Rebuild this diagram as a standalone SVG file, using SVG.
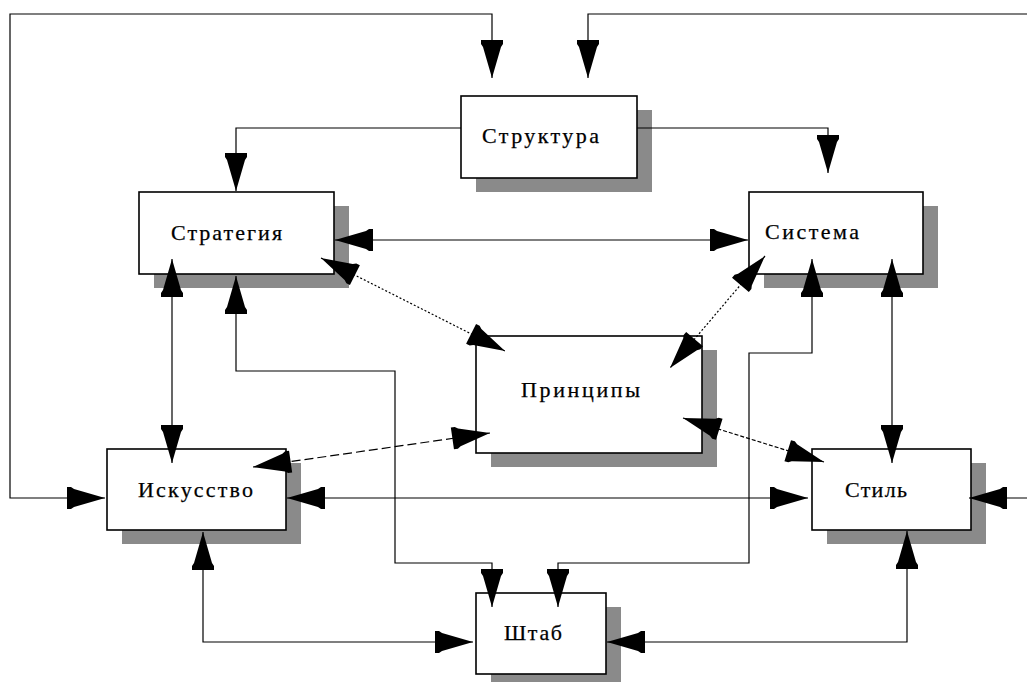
<svg xmlns="http://www.w3.org/2000/svg" width="1027" height="682" viewBox="0 0 1027 682">
<style>
.sh{fill:#8a8a8a}
.bx{fill:#ffffff;stroke:#000000;stroke-width:1.6}
.lb{font-family:"Liberation Serif","DejaVu Serif",serif;font-size:22px;fill:#000000;stroke:#000000;stroke-width:0.25}
.cn{fill:none;stroke:#000000;stroke-width:1.2}
.d1{stroke-dasharray:2 2}
.d2{stroke-dasharray:4 2}
.d3{stroke-dasharray:9 4}
.ar{marker-end:url(#ah)}
.ab{marker-start:url(#ah);marker-end:url(#ah)}
</style>
<defs>
<marker id="ah" markerUnits="userSpaceOnUse" viewBox="-40 -12 41 24" markerWidth="41" markerHeight="24" refX="0" refY="0" orient="auto-start-reverse">
<path d="M0,0 L-31,-9 L-34,-11 L-38,-11 L-38,11 L-34,11 L-31,9 Z" fill="#000000"/>
</marker>
</defs>
<rect width="1027" height="682" fill="#ffffff"/>
<g id="node-struktura">
<rect class="sh" x="476" y="110" width="176" height="82"/>
<rect class="bx" x="461" y="96" width="176" height="82"/>
<text class="lb" x="482" y="143" textLength="117" lengthAdjust="spacing">Структура</text>
</g>
<g id="node-strategiya">
<rect class="sh" x="154" y="206" width="195" height="82"/>
<rect class="bx" x="139" y="192" width="195" height="82"/>
<text class="lb" x="171" y="240" textLength="111" lengthAdjust="spacing">Стратегия</text>
</g>
<g id="node-sistema">
<rect class="sh" x="764" y="206" width="174" height="82"/>
<rect class="bx" x="749" y="192" width="174" height="82"/>
<text class="lb" x="765" y="239" textLength="94" lengthAdjust="spacing">Система</text>
</g>
<g id="node-printsipy">
<rect class="sh" x="491" y="350" width="226" height="117"/>
<rect class="bx" x="476" y="336" width="226" height="117"/>
<text class="lb" x="521" y="397" textLength="119" lengthAdjust="spacing">Принципы</text>
</g>
<g id="node-iskusstvo">
<rect class="sh" x="122" y="463" width="179" height="81"/>
<rect class="bx" x="107" y="449" width="179" height="81"/>
<text class="lb" x="138" y="497" textLength="115" lengthAdjust="spacing">Искусство</text>
</g>
<g id="node-stil">
<rect class="sh" x="827" y="463" width="159" height="81"/>
<rect class="bx" x="812" y="449" width="159" height="81"/>
<text class="lb" x="845" y="497" textLength="62" lengthAdjust="spacing">Стиль</text>
</g>
<g id="node-shtab">
<rect class="sh" x="491" y="607" width="130" height="81"/>
<rect class="bx" x="476" y="593" width="130" height="81"/>
<text class="lb" x="504" y="640" textLength="58" lengthAdjust="spacing">Штаб</text>
</g>
<g id="connectors">
<path class="cn ab" d="M105,498 L10,498 L10,14 L492,14 L492,78"/>
<path class="cn ar" d="M1027,14 L588,14 L588,78"/>
<path class="cn ar" d="M461,128 L236,128 L236,191"/>
<path class="cn ar" d="M637,128 L828,128 L828,173"/>
<path class="cn ab" d="M335,240 L748,240"/>
<path class="cn ab d1" d="M321,258 L505,351"/>
<path class="cn ab d1" d="M765,256 L670,368"/>
<path class="cn ab d2" d="M683,418 L824,462"/>
<path class="cn ab d3" d="M253,467 L490,433"/>
<path class="cn ab" d="M287,498 L808,498"/>
<path class="cn ar" d="M1027,498 L969,498"/>
<path class="cn ab" d="M172,259 L172,463"/>
<path class="cn ab" d="M236,276 L236,371 L395,371 L395,563 L492,563 L492,607"/>
<path class="cn ab" d="M812,259 L812,353 L749,353 L749,563 L558,563 L558,607"/>
<path class="cn ab" d="M892,259 L892,463"/>
<path class="cn ab" d="M203,532 L203,642 L473,642"/>
<path class="cn ab" d="M907,531 L907,642 L607,642"/>
</g>
</svg>
